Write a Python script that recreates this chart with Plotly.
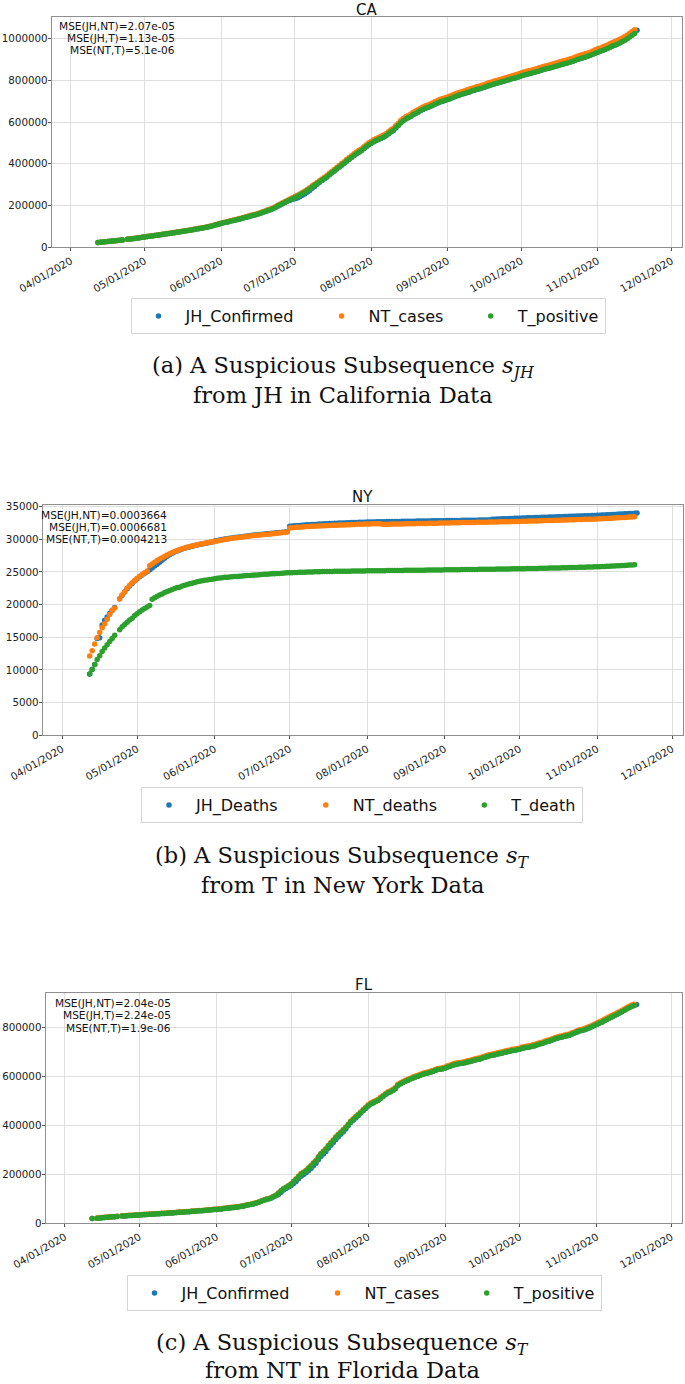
import pandas as pd
import plotly.graph_objects as go

W, H = 685, 1384
START = "2020-04-12"

# ---------------- CA: confirmed cases (thousands), daily from 2020-04-12 ----------------
ca_jh = [22.6, 23.8, 25.0, 26.1, 27.4, 28.8, 30.0, 31.1, 32.3, 33.5, 35.0, None, 38.2, 39.9, 41.3, 42.5, 43.9, 45.8, 47.7,
         49.8, 51.5, 53.0, 54.5, 56.0, 57.7, 59.5, 61.3, 63.1, 64.9, 66.5, 68.2, 70.0, 71.9, 73.8, 75.7, 77.5, 79.2, 81.1, 83.2, 85.3, 87.4, 89.5, 91.7, 93.9, 96.0, 98.4, 101.3, 104.4, 107.7, 111.0,
         114.3, 117.1, 119.8, 122.6, 125.5, 128.5, 131.2, 133.8, 136.6, 140.0, 143.3, 146.6, 150.2, 153.0, 155.8, 159.3, 163.2, 167.3, 171.4, 175.8, 180.0, 184.4, 190.2, 197.2, 203.1, 209.0, 214.8, 220.5, 225.5, 230.0,
         232.5, 236.5, 242.0, 249.0, 256.0, 264.0, 272.0, 282.5, 292.0, 302.0, 311.5, 320.5, 329.0, 337.0, 347.5, 356.5, 365.5, 375.5, 384.5, 393.5, 402.5, 413.0, 422.0, 431.0, 440.0, 448.5, 456.0, 463.0, 473.0, 482.5, 491.5,
         498.5, 506.0, 511.5, 517.0, 522.5, 528.0, 535.0, 544.0, 553.0, 560.5, 573.0, 584.5, 597.0, 606.5, 614.5, 621.0, 627.0, 636.0, 641.5, 648.0, 655.0, 661.0, 666.5, 670.5, 675.0, 681.0, 686.5, 691.5, 697.0, 700.5, 704.0,
         708.5, 712.0, 718.0, 722.0, 727.5, 730.5, 735.0, 737.5, 742.5, 745.0, 750.5, 753.0, 758.0, 760.0, 764.5, 767.0, 772.0, 775.5, 780.0, 783.0, 787.0, 789.5, 794.0, 796.5, 801.0, 803.5, 808.0, 810.0, 814.5, 817.5,
         822.5, 826.0, 829.5, 832.5, 835.0, 838.0, 841.5, 845.0, 849.0, 852.5, 856.0, 858.5, 861.5, 865.0, 868.5, 872.0, 876.0, 879.0, 882.0, 885.5, 889.0, 893.0, 897.5, 901.5, 905.5, 909.0, 912.5, 916.5, 921.0, 926.0, 931.0,
         935.5, 940.0, 944.5, 949.0, 954.0, 959.5, 965.0, 969.5, 974.5, 980.5, 987.0, 993.5, 1000.5, 1010.0, 1020.0, 1031.0, 1041.0]
ca_nt = [23.1, 24.2, 25.4, 26.6, 27.9, 29.3, 30.5, 31.6, 32.8, 33.9, 35.5, None, 38.8, 40.5, 41.9, 43.2, 44.6, 46.5, 48.4,
         50.5, 52.2, 53.8, 55.3, 56.8, 58.5, 60.3, 62.2, 64.0, 65.8, 67.5, 69.2, 71.0, 72.9, 74.8, 76.8, 78.6, 80.3, 82.3, 84.4, 86.5, 88.7, 90.8, 93.0, 95.3, 97.4, 99.8, 102.8, 105.9, 109.2, 112.7,
         116.1, 119.0, 121.8, 124.7, 127.7, 130.8, 133.6, 136.3, 139.2, 142.7, 146.1, 149.5, 153.2, 156.1, 159.0, 162.6, 166.6, 170.8, 175.0, 179.5, 183.8, 188.3, 194.3, 201.4, 207.5, 213.6, 219.7, 225.8, 231.4, 237.5,
         243.6, 249.8, 255.9, 263.0, 269.7, 277.3, 284.9, 294.6, 302.7, 310.9, 319.0, 327.6, 336.3, 343.9, 354.6, 363.7, 372.8, 382.9, 392.1, 401.2, 410.4, 421.0, 430.1, 439.3, 448.4, 457.0, 464.7, 471.8, 481.9, 491.5, 500.7,
         507.8, 515.4, 521.0, 526.6, 532.2, 537.8, 544.9, 554.0, 563.1, 570.8, 583.4, 595.1, 607.7, 617.4, 625.5, 632.1, 638.2, 647.3, 652.9, 659.5, 666.6, 672.7, 678.3, 682.4, 687.0, 693.1, 698.7, 703.8, 709.4, 713.0, 716.6,
         720.2, 724.8, 729.9, 735.0, 739.6, 743.7, 747.2, 750.8, 754.9, 758.4, 763.0, 766.6, 770.7, 773.7, 777.3, 780.8, 784.9, 789.5, 793.0, 797.1, 800.2, 803.7, 807.3, 810.9, 814.4, 818.0, 821.6, 824.6, 828.2, 832.3,
         836.3, 839.9, 843.4, 846.5, 849.0, 852.1, 855.6, 859.2, 863.3, 866.8, 870.4, 872.9, 876.0, 879.5, 883.1, 886.7, 890.7, 893.8, 896.8, 900.4, 904.0, 908.0, 912.6, 916.7, 920.7, 924.3, 927.9, 931.9, 936.5, 941.6, 946.7,
         951.4, 956.0, 960.6, 965.2, 970.3, 975.9, 981.5, 986.1, 991.2, 997.3, 1003.9, 1010.5, 1017.6, 1025.7, 1034.4, 1043.5]
ca_t = [22.8, 23.9, 25.0, 26.2, 27.5, 28.9, 30.0, 31.1, 32.3, 33.4, 35.0, None, 38.3, 40.0, 41.4, 42.6, 44.0, 45.9, 47.8,
        49.9, 51.6, 53.1, 54.6, 56.1, 57.8, 59.6, 61.4, 63.2, 65.0, 66.6, 68.3, 70.1, 72.0, 73.9, 75.8, 77.6, 79.3, 81.2, 83.3, 85.4, 87.5, 89.6, 91.8, 94.0, 96.1, 98.5, 101.4, 104.5, 107.8, 111.2,
        114.5, 117.3, 120.0, 122.8, 125.7, 128.7, 131.4, 134.0, 136.8, 140.2, 143.5, 146.8, 150.4, 153.2, 156.0, 159.5, 163.4, 167.5, 171.6, 176.0, 180.2, 184.6, 190.5, 197.5, 203.5, 209.5, 215.5, 221.5, 227.0, 233.0,
        239.0, 245.0, 251.0, 258.0, 264.5, 272.0, 279.5, 289.0, 297.0, 305.0, 313.0, 321.5, 330.0, 337.5, 348.0, 357.0, 366.0, 376.0, 385.0, 394.0, 403.0, 413.5, 422.5, 431.5, 440.5, 449.0, 456.5, 463.5, 473.5, 483.0, 492.0,
        499.0, 506.5, 512.0, 517.5, 523.0, 528.5, 535.5, 544.5, 553.5, 561.0, 573.5, 585.0, 597.5, 607.0, 615.0, 621.5, 627.5, 636.5, 642.0, 648.5, 655.5, 661.5, 667.0, 671.0, 675.5, 681.5, 687.0, 692.0, 697.5, 701.0, 704.5,
        708.0, 712.5, 717.5, 722.5, 727.0, 731.0, 734.5, 738.0, 742.0, 745.5, 750.0, 753.5, 757.5, 760.5, 764.0, 767.5, 771.5, 776.0, 779.5, 783.5, 786.5, 790.0, 793.5, 797.0, 800.5, 804.0, 807.5, 810.5, 814.0, 818.0,
        822.0, 825.5, 829.0, 832.0, 834.5, 837.5, 841.0, 844.5, 848.5, 852.0, 855.5, 858.0, 861.0, 864.5, 868.0, 871.5, 875.5, 878.5, 881.5, 885.0, 888.5, 892.5, 897.0, 901.0, 905.0, 908.5, 912.0, 916.0, 920.5, 925.5, 930.5,
        935.0, 939.5, 944.0, 948.5, 953.5, 959.0, 964.5, 969.0, 974.0, 980.0, 986.5, 993.0, 1000.0, 1008.0, 1016.5, 1025.5]

# ---------------- NY: deaths, daily from 2020-04-12 ----------------
ny_jh = [9385, 10060, 10840, 14800, 14950, 16900, 17600, 18100, 18650, 19150, 19550, None, 20900, 21450, 21950, 22450, 22850, 23250, 23600,
         23950, 24250, 24550, 24800, 25050,
         25300, 25600, 25900, 26200, 26500, 26800, 27100, 27400, 27650, 27880, 28060, 28220, 28360, 28500, 28620, 28730, 28840, 28940, 29040, 29130, 29210, 29290, 29370, 29450, 29520, 29590,
         29740, 29822, 29891, 29958, 30032, 30090, 30153, 30208, 30262, 30309, 30362, 30408, 30463, 30509, 30557, 30602, 30641, 30683, 30719, 30762, 30801, 30843, 30879, 30922, 30961, 31002, 31041, 31083, 31122, 31163,
         31985, 32024, 32061, 32093, 32118, 32152, 32178, 32212, 32233, 32262, 32283, 32311, 32328, 32352, 32368, 32391, 32408, 32432, 32447, 32466, 32478, 32497, 32508, 32527, 32538, 32557, 32568, 32587, 32598, 32617, 32628,
         32645, 32651, 32662, 32667, 32678, 32682, 32691, 32697, 32706, 32710, 32720, 32724, 32733, 32737, 32745, 32750, 32758, 32763, 32771, 32776, 32784, 32789, 32797, 32802, 32810, 32815, 32823, 32828, 32836, 32841, 32849,
         32856, 32861, 32867, 32874, 32879, 32886, 32891, 32898, 32904, 32910, 32916, 32922, 32928, 32933, 32940, 32945, 32951, 32956, 32962, 33062, 33080, 33096, 33113, 33128, 33146, 33161, 33178, 33193, 33211, 33226,
         33240, 33253, 33268, 33280, 33295, 33307, 33322, 33334, 33349, 33361, 33376, 33388, 33403, 33415, 33430, 33442, 33457, 33469, 33484, 33496, 33511, 33523, 33538, 33550, 33565, 33577, 33592, 33604, 33619, 33631, 33646,
         33670, 33690, 33712, 33731, 33754, 33772, 33795, 33813, 33836, 33855, 33877, 33897, 33921, 33942, 33966, 33990, 34030]
ny_nt = [12140, 12950, 13980, 14940, 15750, 16470, 17070, 17780, 18500, 19100, 19500, None, 20860, 21480, 21990, 22550, 22950, 23350, 23700,
         24030, 24350, 24620, 24880, 25150,
         25960, 26230, 26490, 26740, 26970, 27190, 27400, 27600, 27790, 27970, 28130, 28280, 28420, 28550, 28670, 28780, 28880, 28980, 29070, 29160, 29240, 29320, 29400, 29470, 29540, 29610,
         29682, 29758, 29834, 29898, 29972, 30028, 30093, 30147, 30203, 30248, 30302, 30347, 30403, 30448, 30497, 30543, 30578, 30624, 30657, 30703, 30738, 30784, 30817, 30863, 30898, 30943, 30978, 31024, 31057, 31103,
         31730, 31772, 31803, 31838, 31858, 31893, 31912, 31943, 31962, 31988, 32003, 32028, 32042, 32068, 32082, 32103, 32112, 32138, 32147, 32168, 32177, 32198, 32207, 32228, 32237, 32258, 32267, 32288, 32297, 32318, 32327,
         32345, 32352, 32366, 32373, 32387, 32395, 32288, 32302, 32309, 32320, 32324, 32335, 32341, 32352, 32356, 32368, 32373, 32380, 32392, 32397, 32408, 32412, 32420, 32433, 32437, 32447, 32452, 32465, 32469, 32480, 32484,
         32496, 32500, 32512, 32516, 32528, 32533, 32540, 32553, 32556, 32568, 32572, 32585, 32588, 32597, 32608, 32612, 32625, 32628, 32640, 32645, 32652, 32664, 32668, 32680, 32684, 32697, 32700, 32712, 32716, 32728,
         32736, 32752, 32760, 32776, 32784, 32797, 32812, 32820, 32836, 32844, 32860, 32868, 32883, 32892, 32908, 32915, 32932, 32940, 32955, 32964, 32980, 32988, 33004, 33012, 33028, 33036, 33052, 33060, 33076, 33084, 33100,
         33113, 33137, 33152, 33178, 33193, 33217, 33236, 33262, 33280, 33307, 33326, 33354, 33374, 33404, 33428, 33460]
ny_t = [9385, 10056, 10834, 11586, 12192, 12822, 13362, 13869, 14347, 14828, 15302, None, 16162, 16599, 16966, 17303, 17638, 17931, 18321,
        18610, 18909, 19189, 19415, 19645, 19877, 20828, 21045, 21271, 21478, 21640, 21845, 22013, 22170, 22304, 22478, 22619, 22668, 22843, 22976, 23083, 23195, 23282, 23391, 23488, 23564, 23643, 23722, 23780, 23830, 23883,
        23953, 24023, 24068, 24133, 24175, 24198, 24229, 24259, 24299, 24307, 24354, 24375, 24404, 24442, 24478, 24495, 24528, 24549, 24579, 24597, 24639, 24661, 24686, 24710, 24737, 24753, 24782, 24814, 24835, 24866,
        24877, 24885, 24904, 24924, 24944, 24959, 24974, 24989, 25004, 25014, 25025, 25035, 25045, 25056, 25068, 25075, 25081, 25089, 25096, 25103, 25106, 25113, 25118, 25124, 25128, 25136, 25140, 25145, 25151, 25158, 25164,
        25170, 25173, 25178, 25181, 25190, 25194, 25198, 25204, 25210, 25211, 25217, 25222, 25229, 25237, 25242, 25245, 25248, 25253, 25258, 25263, 25267, 25273, 25276, 25281, 25284, 25289, 25294, 25298, 25305, 25309, 25315,
        25321, 25325, 25331, 25336, 25343, 25348, 25352, 25360, 25365, 25370, 25375, 25381, 25385, 25392, 25397, 25403, 25410, 25418, 25421, 25427, 25434, 25440, 25446, 25450, 25456, 25462, 25467, 25474, 25482, 25490,
        25497, 25501, 25508, 25514, 25523, 25530, 25536, 25545, 25555, 25563, 25570, 25578, 25589, 25598, 25607, 25617, 25625, 25633, 25642, 25654, 25665, 25675, 25685, 25697, 25707, 25718, 25730, 25745, 25757, 25770, 25783,
        25796, 25812, 25831, 25847, 25865, 25881, 25900, 25920, 25943, 25966, 25985, 26005, 26027, 26051, 26077, 26110]

# ---------------- FL: confirmed cases (thousands), daily from 2020-04-12 ----------------
fl_jh = [19.4, None, 21.0, 21.8, 22.7, 23.6, 24.5, 25.3, 26.2, 27.0, 27.8, None, 29.5, 30.2, 30.9, 31.5, 32.1, 32.7, 33.4,
         34.1, 34.9, 35.4, 36.0, 36.8, 37.3, 37.9, 38.7, 39.1, 39.8, 40.4, 40.9, 41.8, 42.3, 43.1, 43.9, 44.7, 45.3, 45.9, 46.7, 47.4, 48.6, 49.4, 50.0, 50.9, 51.6, 52.2, 53.2, 54.4, 55.3, 56.1,
         56.7, 57.4, 58.7, 59.9, 61.3, 62.7, 63.8, 64.8, 65.9, 67.3, 69.0, 70.8, 73.4, 75.5, 77.2, 80.0, 82.6, 85.8, 89.6, 93.7, 97.5, 100.1, 103.4, 108.5, 112.5, 119.0, 127.0, 135.5, 142.0, 148.5,
         154.0, 162.0, 171.0, 181.5, 192.0, 199.0, 206.0, 215.0, 224.0, 235.0, 245.5, 259.5, 272.5, 283.0, 293.0, 306.5, 318.5, 330.0, 342.5, 353.5, 363.5, 374.0, 385.0, 398.0, 411.0, 421.0, 430.0, 439.5, 449.0, 459.5, 469.0,
         479.0, 486.5, 491.5, 497.0, 502.5, 510.0, 518.0, 526.0, 532.5, 537.0, 542.5, 550.5, 563.0, 569.5, 575.0, 580.0, 584.0, 588.5, 593.5, 597.5, 600.5, 604.0, 608.5, 611.5, 613.5, 616.5, 620.0, 624.0, 627.5, 628.5, 631.0,
         633.5, 637.5, 641.0, 645.5, 648.5, 650.0, 652.0, 653.5, 656.0, 658.5, 660.5, 663.5, 667.0, 668.5, 670.5, 674.5, 677.5, 681.0, 684.5, 686.5, 688.0, 691.0, 693.5, 695.5, 698.5, 700.5, 702.5, 705.0, 706.5, 709.0,
         711.0, 714.5, 717.0, 719.0, 720.0, 723.0, 725.0, 728.5, 732.0, 734.5, 738.0, 742.0, 744.5, 748.5, 752.5, 755.5, 758.0, 760.0, 763.5, 765.5, 768.0, 772.5, 776.5, 780.5, 785.0, 787.5, 790.5, 794.5, 798.5, 803.0, 807.5,
         812.5, 817.5, 821.5, 827.0, 832.5, 837.5, 842.5, 847.5, 852.5, 858.5, 863.5, 869.5, 875.5, 881.0, 886.0, 889.5, 893.0]
fl_nt = [19.9, None, 21.7, 22.6, 23.5, 24.5, 25.4, 26.2, 27.1, 27.9, 28.7, None, 30.4, 31.2, 31.9, 32.5, 33.1, 33.7, 34.4,
         35.2, 36.0, 36.5, 37.1, 37.9, 38.4, 39.0, 39.8, 40.2, 40.9, 41.5, 42.0, 42.9, 43.4, 44.2, 45.0, 45.8, 46.4, 47.0, 47.8, 48.5, 49.7, 50.5, 51.1, 52.0, 52.7, 53.3, 54.3, 55.5, 56.4, 57.2,
         58.3, 59.0, 60.3, 61.5, 62.9, 64.3, 65.4, 66.4, 67.5, 68.9, 70.6, 72.4, 75.0, 77.1, 78.8, 81.6, 84.2, 87.4, 91.2, 95.3, 99.1, 101.7, 105.0, 110.5, 115.5, 124.4, 134.0, 142.5, 147.8, 153.9,
         161.9, 172.1, 181.6, 193.1, 203.1, 209.4, 216.8, 226.8, 235.7, 247.2, 257.5, 272.8, 285.4, 294.6, 304.8, 318.7, 330.2, 340.6, 353.0, 363.4, 372.8, 382.6, 392.9, 405.3, 417.5, 426.9, 435.7, 444.9, 454.4, 464.4, 473.4,
         484.0, 491.1, 495.9, 501.3, 506.7, 514.4, 522.1, 530.3, 536.8, 541.0, 546.8, 554.9, 567.3, 573.6, 579.0, 583.9, 588.0, 592.5, 597.3, 601.6, 604.6, 608.0, 612.7, 615.7, 617.5, 620.7, 623.8, 628.2, 631.6, 632.6, 635.0,
         638.4, 642.6, 645.8, 650.6, 653.3, 655.0, 656.8, 658.3, 660.8, 663.7, 665.4, 668.6, 671.8, 673.6, 675.6, 679.5, 682.7, 686.1, 689.2, 691.4, 693.0, 695.8, 698.4, 700.6, 703.4, 705.4, 707.4, 710.0, 711.2, 713.7,
         715.7, 719.4, 722.0, 723.7, 725.1, 727.7, 730.0, 733.4, 736.8, 739.4, 743.2, 746.9, 749.4, 753.4, 757.5, 760.5, 763.1, 765.1, 768.4, 770.2, 773.1, 777.6, 781.3, 785.6, 790.0, 792.2, 795.3, 799.2, 803.0, 807.5, 812.4,
         818.0, 822.9, 827.1, 832.8, 838.3, 843.3, 848.2, 853.5, 858.2, 864.0, 869.0, 875.0, 881.0, 886.2, 891.1, 894.5]
fl_t = [19.3, None, 21.0, 21.9, 22.8, 23.7, 24.6, 25.4, 26.3, 27.1, 27.9, None, 29.6, 30.3, 31.0, 31.6, 32.2, 32.8, 33.5,
        34.2, 35.0, 35.5, 36.1, 36.9, 37.4, 38.0, 38.8, 39.2, 39.9, 40.5, 41.0, 41.9, 42.4, 43.2, 44.0, 44.8, 45.4, 46.0, 46.8, 47.5, 48.7, 49.5, 50.1, 51.0, 51.7, 52.3, 53.3, 54.5, 55.4, 56.2,
        56.8, 57.5, 58.8, 60.0, 61.4, 62.8, 63.9, 64.9, 66.0, 67.4, 69.1, 70.9, 73.5, 75.6, 77.3, 80.1, 82.7, 85.9, 89.7, 93.8, 97.6, 100.2, 103.5, 109.0, 114.0, 122.9, 132.5, 141.0, 146.3, 152.4,
        158.9, 169.1, 178.6, 190.1, 200.1, 206.4, 213.8, 223.8, 232.7, 244.2, 254.5, 269.8, 282.4, 291.6, 301.8, 315.7, 327.2, 337.6, 350.0, 360.4, 369.8, 379.6, 389.9, 402.3, 414.5, 423.9, 432.7, 441.9, 451.4, 461.4, 470.4,
        480.0, 487.1, 491.9, 497.3, 502.7, 510.4, 518.1, 526.3, 532.8, 537.0, 542.8, 550.9, 563.3, 569.6, 575.0, 579.9, 584.0, 588.5, 593.3, 597.6, 600.6, 604.0, 608.7, 611.7, 613.5, 616.7, 619.8, 624.2, 627.6, 628.6, 631.0,
        633.4, 637.6, 640.8, 645.6, 648.3, 650.0, 651.8, 653.3, 655.8, 658.7, 660.4, 663.6, 666.8, 668.6, 670.6, 674.5, 677.7, 681.1, 684.2, 686.4, 688.0, 690.8, 693.4, 695.6, 698.4, 700.4, 702.4, 705.0, 706.2, 708.7,
        710.7, 714.4, 717.0, 718.7, 720.1, 722.7, 725.0, 728.4, 731.8, 734.4, 738.2, 741.9, 744.4, 748.4, 752.5, 755.5, 758.1, 760.1, 763.4, 765.2, 768.1, 772.6, 776.3, 780.6, 785.0, 787.2, 790.3, 794.2, 798.0, 802.5, 807.4,
        812.0, 816.9, 821.1, 826.8, 832.3, 837.3, 842.2, 847.5, 852.2, 858.0, 863.0, 869.0, 875.0, 880.2, 885.1, 888.5]

# ---------------- labels / text ----------------
titles = ["CA", "NY", "FL"]
names_ca = ["JH_Confirmed", "NT_cases", "T_positive"]
names_ny = ["JH_Deaths", "NT_deaths", "T_death"]
names_fl = ["JH_Confirmed", "NT_cases", "T_positive"]
mse_ca = ["MSE(JH,NT)=2.07e-05", "MSE(JH,T)=1.13e-05", "MSE(NT,T)=5.1e-06"]
mse_ny = ["MSE(JH,NT)=0.0003664", "MSE(JH,T)=0.0006681", "MSE(NT,T)=0.0004213"]
mse_fl = ["MSE(JH,NT)=2.04e-05", "MSE(JH,T)=2.24e-05", "MSE(NT,T)=1.9e-06"]
captions = [
    ("(a) A Suspicious Subsequence <i>s</i><sub><i>JH</i></sub>", "from JH in California Data"),
    ("(b) A Suspicious Subsequence <i>s</i><sub><i>T</i></sub>", "from T in New York Data"),
    ("(c) A Suspicious Subsequence <i>s</i><sub><i>T</i></sub>", "from NT in Florida Data"),
]
colors = ["#1f77b4", "#ff7f0e", "#2ca02c"]
PAD = "\u00a0" * 3   # visual gap after a legend entry


def X(px):
    return px / W


def Y(py):
    return 1 - py / H


panels = [
    dict(series=[ca_jh, ca_nt, ca_t], scale=1000, names=names_ca, mse=mse_ca, cap=captions[0],
         xdom=(51.7, 682.0), ydom=(16.7, 247.3), yr=[0, 1105500], dtick=200000,
         title_y=10, mse_x=177, mse_y=[26, 38, 50], leg_x=368, leg_y=316, cap_y=(366.7, 395.0)),
    dict(series=[ny_jh, ny_nt, ny_t], scale=1, names=names_ny, mse=mse_ny, cap=captions[1],
         xdom=(42.7, 682.7), ydom=(505.0, 735.3), yr=[0, 35250], dtick=5000,
         title_y=497, mse_x=169.4, mse_y=[515, 526.7, 539.3], leg_x=362, leg_y=805, cap_y=(856.7, 885.0)),
    dict(series=[fl_jh, fl_nt, fl_t], scale=1000, names=names_fl, mse=mse_fl, cap=captions[2],
         xdom=(45.5, 682.0), ydom=(993.3, 1223.3), yr=[0, 938800], dtick=200000,
         title_y=985, mse_x=172.6, mse_y=[1003.3, 1015, 1027.7], leg_x=364, leg_y=1293, cap_y=(1343.5, 1369.5)),
]

fig = go.Figure()
annotations = []
layout_axes = {}
SANS = "DejaVu Sans"
SERIF = "DejaVu Serif"

for i, p in enumerate(panels):
    n = i + 1
    xa = "x" if n == 1 else f"x{n}"
    ya = "y" if n == 1 else f"y{n}"
    leg = "legend" if n == 1 else f"legend{n}"
    for j, (vals, name, col) in enumerate(zip(p["series"], p["names"], colors)):
        dates = pd.date_range(START, periods=len(vals), freq="D")
        yv = [None if v is None else v * p["scale"] for v in vals]
        label = name + (PAD if j < 2 else "")
        fig.add_trace(go.Scatter(
            x=dates, y=yv, mode="markers", name=label,
            marker=dict(color=col, size=5.5, line=dict(width=0)),
            xaxis=xa, yaxis=ya, legend=leg, cliponaxis=True))

    common = dict(showline=True, mirror=True, linecolor="#8f8f8f", linewidth=1,
                  showgrid=True, gridcolor="#dedede", gridwidth=1, zeroline=False,
                  ticks="outside", ticklen=3, tickcolor="#555", automargin=False,
                  tickfont=dict(family=SANS, size=10.3, color="#222"))
    layout_axes["xaxis" if n == 1 else f"xaxis{n}"] = dict(
        common, type="date", domain=[X(p["xdom"][0]), X(p["xdom"][1])], anchor=ya,
        range=["2020-03-24 05:00", "2020-12-05 06:00"], tick0="2020-04-01", dtick="M1",
        tickformat="%m/%d/%Y", tickangle=-30)
    layout_axes["yaxis" if n == 1 else f"yaxis{n}"] = dict(
        common, domain=[Y(p["ydom"][1]), Y(p["ydom"][0])], anchor=xa,
        range=p["yr"], dtick=p["dtick"], tick0=0, tickformat="d", ticklabelstandoff=-2)

    layout_axes[leg] = dict(
        orientation="h", x=X(p["leg_x"]), y=Y(p["leg_y"]), xanchor="center", yanchor="middle",
        xref="paper", yref="paper", bgcolor="white", bordercolor="#d5d5d5", borderwidth=1,
        font=dict(family=SANS, size=16, color="#111"), itemwidth=44)

    cx = (p["xdom"][0] + p["xdom"][1]) / 2
    annotations.append(dict(text=titles[i], x=X(cx), y=Y(p["title_y"]), xref="paper", yref="paper",
                            xanchor="center", yanchor="middle", showarrow=False,
                            font=dict(family=SANS, size=15, color="#111")))
    for txt, yy in zip(p["mse"], p["mse_y"]):
        annotations.append(dict(text=txt, x=X(p["mse_x"]), y=Y(yy), xref="paper", yref="paper",
                                xanchor="right", yanchor="middle", showarrow=False,
                                font=dict(family=SANS, size=10.6, color="#111")))
    for line, yy in zip(p["cap"], p["cap_y"]):
        annotations.append(dict(text=line, x=X(342.5), y=Y(yy), xref="paper",
                                yref="paper", xanchor="center", yanchor="middle", showarrow=False,
                                borderpad=0, font=dict(family=SERIF, size=22.5, color="#111")))

fig.update_layout(
    width=W, height=H, margin=dict(l=0, r=0, t=0, b=0),
    paper_bgcolor="white", plot_bgcolor="white",
    annotations=annotations, showlegend=True, **layout_axes)

fig.write_html("out.html")
